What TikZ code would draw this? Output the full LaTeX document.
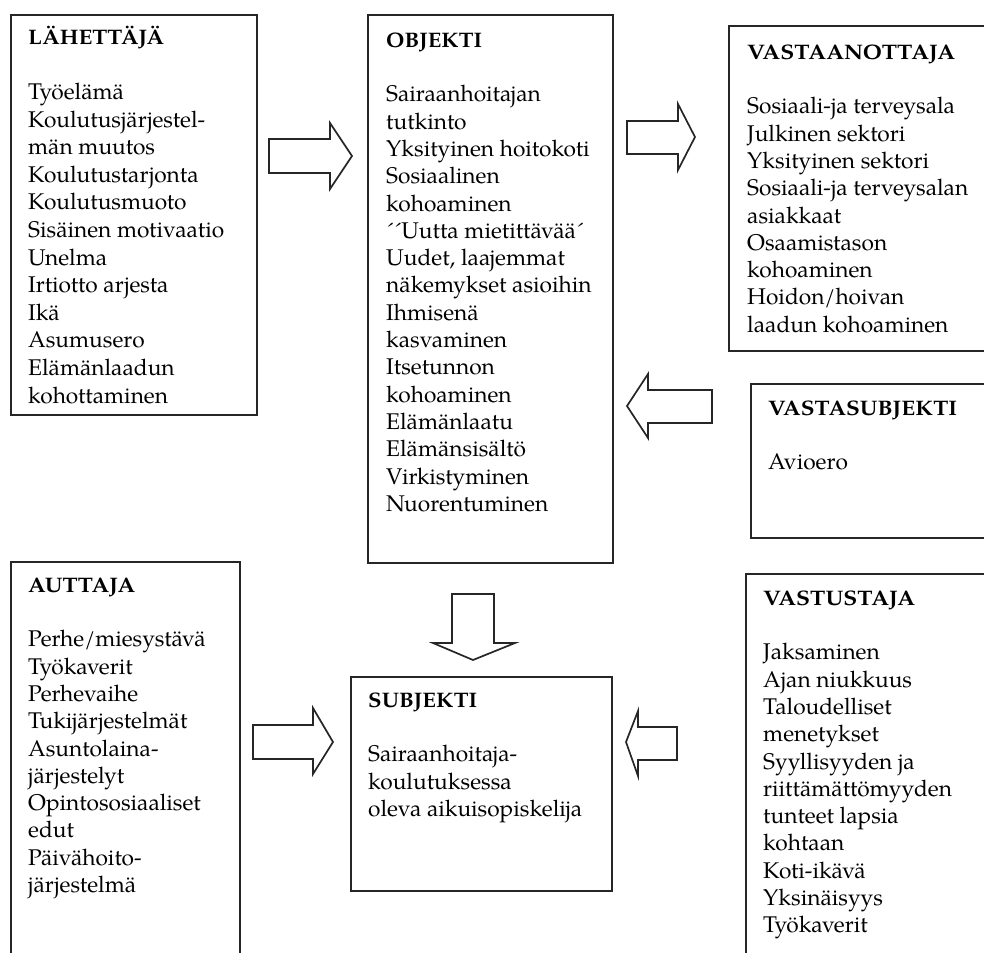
\documentclass[tikz,border=0pt]{standalone}
\usepackage{fontspec}
\setmainfont{texgyrepagella}[Extension=.otf, UprightFont=*-regular, BoldFont=*-bold]
% bold heading, set to a given width (in pt)
\newlength\hdw
\newcommand{\hdfont}{\fontsize{21}{27.3}\selectfont\bfseries}
\newcommand{\hd}[2]{\settowidth\hdw{\hdfont #2}%
  \pgfmathsetmacro\hdsx{#1/\hdw}\scalebox{\hdsx}[1]{\hdfont #2}}
\begin{document}
\begin{tikzpicture}[x=1pt,y=-1pt,
  box/.style={draw=black!85, line width=1.9pt, anchor=north west, inner sep=0pt},
  txt/.style={anchor=north west, inner sep=0pt, align=left,
              font=\fontsize{22.7}{27.3}\selectfont},
  fat/.style={draw=black!85, line width=1.7pt, line join=miter, fill=white}]
\useasboundingbox (0,0) rectangle (984,952);
\clip (0,0) rectangle (984,952);

% frames
\node[box, minimum width=246pt, minimum height=400pt] (lah) at (10,14) {};
\node[box, minimum width=245pt, minimum height=548pt] (obj) at (367,14) {};
\node[box, minimum width=270pt, minimum height=325pt] (vas) at (728,25) {};
\node[box, minimum width=250pt, minimum height=154pt] (vsu) at (750,383) {};
\node[box, minimum width=229pt, minimum height=420pt] (aut) at (10,561) {};
\node[box, minimum width=261pt, minimum height=214pt] (sub) at (350,676) {};
\node[box, minimum width=250pt, minimum height=400pt] (vst) at (745,573) {};

% texts (first line baseline = given y + 24)
\node[txt, font=\fontsize{22.7}{27.6}\selectfont] (tlah) at (28,20)
  {\rule{0pt}{24pt}\hd{136}{LÄHETTÄJÄ}\\[27.6pt]
  Työelämä\\ Koulutusjärjestel-\\ män muutos\\ Koulutustarjonta\\ Koulutusmuoto\\
  Sisäinen motivaatio\\ Unelma\\ Irtiotto arjesta\\ Ikä\\ Asumusero\\
  Elämänlaadun\\ kohottaminen};
\node[txt] (tobj) at (386,23) {\rule{0pt}{24pt}\hd{96}{OBJEKTI}\\[27.3pt]
  Sairaanhoitajan\\ tutkinto\\ Yksityinen hoitokoti\\ Sosiaalinen\\ kohoaminen\\
  ´´Uutta mietittävää´\\ Uudet, laajemmat\\ näkemykset asioihin\\ Ihmisenä\\
  kasvaminen\\ Itsetunnon\\ kohoaminen\\ Elämänlaatu\\ Elämänsisältö\\
  Virkistyminen\\ Nuorentuminen};
\node[txt] (tvas) at (747,35) {\rule{0pt}{24pt}\hd{208}{VASTAANOTTAJA}\\[27.3pt]
  Sosiaali-ja terveysala\\ Julkinen sektori\\ Yksityinen sektori\\
  Sosiaali-ja terveysalan\\ asiakkaat\\ Osaamistason\\ kohoaminen\\
  Hoidon/hoivan\\ laadun kohoaminen};
\node[txt] (tvsu) at (768,391) {\rule{0pt}{24pt}\hd{189}{VASTASUBJEKTI}\\[27.3pt]
  Avioero};
\node[txt] (taut) at (28,568) {\rule{0pt}{24pt}\hd{107}{AUTTAJA}\\[27.3pt]
  Perhe/miesystävä\\ Työkaverit\\ Perhevaihe\\ Tukijärjestelmät\\ Asuntolaina-\\
  järjestelyt\\ Opintososiaaliset\\ edut\\ Päivähoito-\\ järjestelmä};
\node[txt] (tsub) at (368,683) {\rule{0pt}{24pt}\hd{109}{SUBJEKTI}\\[27.3pt]
  Sairaanhoitaja-\\ koulutuksessa\\ oleva aikuisopiskelija};
\node[txt] (tvst) at (763,581) {\rule{0pt}{24pt}\hd{152}{VASTUSTAJA}\\[27.3pt]
  Jaksaminen\\ Ajan niukkuus\\ Taloudelliset\\ menetykset\\ Syyllisyyden ja\\
  riittämättömyyden\\ tunteet lapsia\\ kohtaan\\ Koti-ikävä\\ Yksinäisyys\\ Työkaverit};

% block arrows
\draw[fat] (269,139) -- (330,139) -- (330,123) -- (352,156) -- (330,189)
  -- (330,173) -- (269,173) -- cycle;
\draw[fat] (627,121) -- (678,121) -- (678,104) -- (695,137) -- (678,170)
  -- (678,154) -- (627,154) -- cycle;
\draw[fat] (712,390) -- (648,390) -- (648,374) -- (627,406) -- (648,438)
  -- (648,423) -- (712,423) -- cycle;
\draw[fat] (452,594) -- (494,594) -- (494,643) -- (515,643) -- (473,660)
  -- (433,643) -- (452,643) -- cycle;
\draw[fat] (253,725) -- (313,725) -- (313,708) -- (333,742) -- (313,774)
  -- (313,759) -- (253,759) -- cycle;
\draw[fat] (677,727) -- (638,727) -- (638,711) -- (626,742) -- (638,776)
  -- (638,760) -- (677,760) -- cycle;
\end{tikzpicture}
\end{document}
